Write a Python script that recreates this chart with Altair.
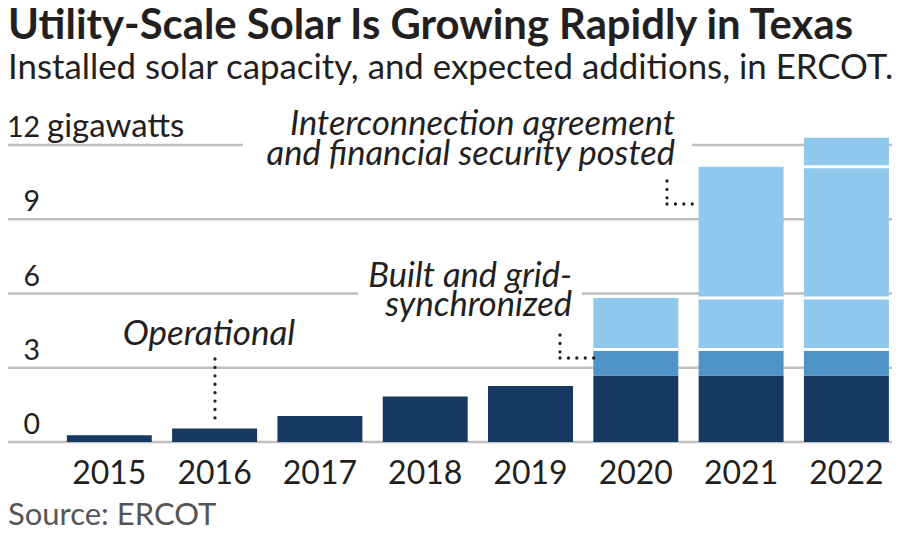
import altair as alt
import pandas as pd

# ---------------- data (GW) ----------------
years = ["2015", "2016", "2017", "2018", "2019", "2020", "2021", "2022"]
operational = [0.27, 0.55, 1.05, 1.84, 2.26, 2.69, 2.69, 2.69]
grid_synchronized = [0, 0, 0, 0, 0, 1.05, 1.05, 1.05]
ia_posted_2020 = [0, 0, 0, 0, 0, 2.08, 2.08, 2.08]
ia_posted_2021 = [0, 0, 0, 0, 0, 0, 5.30, 5.30]
ia_posted_2022 = [0, 0, 0, 0, 0, 0, 0, 1.17]
y_ticks = [0, 3, 6, 9, 12]

kinds = ["Operational", "Built and grid-synchronized",
         "Interconnection agreement and financial security posted"]
colors = ["#173861", "#4f94c8", "#90c8ed"]

series = [
    (kinds[0], operational),
    (kinds[1], grid_synchronized),
    (kinds[2], ia_posted_2020),
    (kinds[2], ia_posted_2021),
    (kinds[2], ia_posted_2022),
]

rows, seps = [], []
for i, yr in enumerate(years):
    base = 0.0
    for kind, vals in series:
        v = vals[i]
        if v > 0:
            rows.append({"year": yr, "kind": kind, "y0": base, "y1": base + v})
            if kind == kinds[2]:
                seps.append({"year": yr, "b": base})
            base += v
bars_df = pd.DataFrame(rows)
seps_df = pd.DataFrame(seps)
ticks_df = pd.DataFrame({"v": y_ticks})

FONT = "Lato"
INK = "#231f20"
W, H = 884, 297

xscale = alt.Scale(domain=years, paddingInner=0.193, paddingOuter=0.294, align=0.95)
yscale = alt.Scale(domain=[0, 12], nice=False, zero=True)
xaxis = alt.Axis(title=None, ticks=False, tickSize=0, domain=False, grid=False,
                 labelFont=FONT, labelFontSize=32, labelColor=INK,
                 labelBaseline="alphabetic", labelPadding=41, labelAngle=0)

one = pd.DataFrame({"k": [0]})

grid = alt.Chart(ticks_df).mark_rule(color="#bfbfbf", strokeWidth=2.5).encode(
    y=alt.Y("v:Q", scale=yscale, axis=None),
    x=alt.value(0), x2=alt.value(W),
)

def mask(x0, x1, y0, y1):
    return alt.Chart(one).mark_rect(fill="white").encode(
        x=alt.value(x0), x2=alt.value(x1), y=alt.value(y0), y2=alt.value(y1))

bars = alt.Chart(bars_df).mark_bar().encode(
    x=alt.X("year:N", scale=xscale, axis=xaxis, sort=years),
    y=alt.Y("y0:Q", scale=yscale, axis=None),
    y2="y1:Q",
    color=alt.Color("kind:N", scale=alt.Scale(domain=kinds, range=colors), legend=None),
)

separators = alt.Chart(seps_df).mark_bar(fill=None, stroke="white", strokeWidth=3).encode(
    x=alt.X("year:N", scale=xscale, axis=xaxis, sort=years),
    y=alt.Y("b:Q", scale=yscale, axis=None),
    y2="b:Q",
)

def leader(x0, y0, x1, y1):
    return alt.Chart(one).mark_rule(color="#222222", strokeWidth=3.3,
                                    strokeDash=[0.01, 8.4], strokeCap="round").encode(
        x=alt.value(x0), x2=alt.value(x1), y=alt.value(y0), y2=alt.value(y1))

def label(text, x, y, size, align="left", style="normal", weight="normal",
          color=INK, line_height=None):
    kw = dict(text=text, align=align, baseline="alphabetic", font=FONT,
              fontSize=size, fontStyle=style, fontWeight=weight, color=color)
    if line_height:
        kw["lineHeight"] = line_height
    return alt.Chart(one).mark_text(**kw).encode(x=alt.value(x), y=alt.value(y))

ylabels = alt.Chart(ticks_df).mark_text(
    align="right", baseline="alphabetic", dy=-8, font=FONT, fontSize=28.5, color=INK
).encode(
    y=alt.Y("v:Q", scale=yscale, axis=None),
    x=alt.value(32),
    text=alt.Text("v:Q"),
)

layers = [
    grid,
    mask(235, 684, -6, 6),      # behind the interconnection note
    mask(350, 574, 143, 155),   # behind the grid-synchronized note
    bars,
    separators,
    leader(207, 214, 207, 274),
    leader(552, 190, 552, 213),
    leader(552, 213, 587, 213),
    leader(659, 36, 659, 59),
    leader(659, 59, 691, 59),
    ylabels,
    label("gigawatts", 39, -8, 33),
    label("Operational", 201, 200, 35, align="center", style="italic"),
    label(["Built and grid-", "synchronized"], 564, 142, 34.5, align="right",
          style="italic", line_height=28.5),
    label(["Interconnection agreement", "and financial security posted"], 667, -10, 34.5,
          align="right", style="italic", line_height=30),
    label("Utility-Scale Solar Is Growing Rapidly in Texas", 0, -106, 41.8, weight="bold"),
    label("Installed solar capacity, and expected additions, in ERCOT.", 0, -66, 34.8),
    label("Source: ERCOT", 0, 380, 31, color="#555555"),
]

chart = alt.layer(*layers).properties(
    width=W, height=H,
    padding={"left": 0, "top": 137, "right": 0, "bottom": 90},
    autosize=alt.AutoSizeParams(type="none"),
).configure_view(stroke=None)

chart.save("out.html", embed_options={"renderer": "svg", "actions": False})
